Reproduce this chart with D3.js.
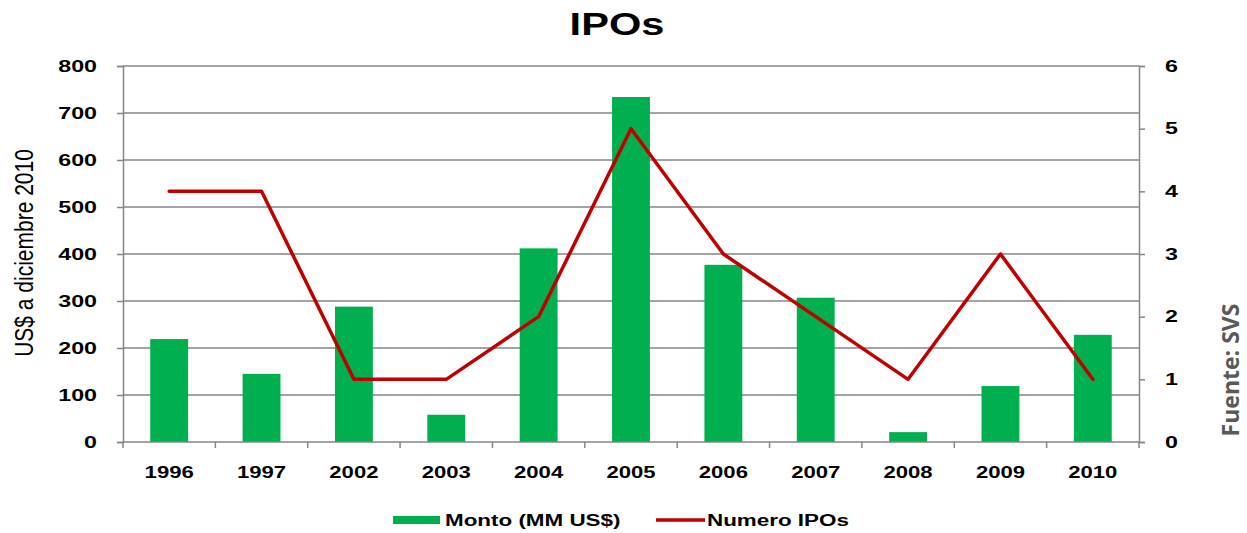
<!DOCTYPE html>
<html>
<head>
<meta charset="utf-8">
<script src="https://cdn.jsdelivr.net/npm/d3@7"></script>
<style>
  body { margin: 0; background: #fff; }
  text { font-family: "Liberation Sans", Arial, sans-serif; }
</style>
</head>
<body>
<svg width="1247" height="533"></svg>
<script>
// data
const years = ["1996", "1997", "2002", "2003", "2004", "2005", "2006", "2007", "2008", "2009", "2010"];
const monto = [219, 145, 288, 58, 412, 734, 377, 307, 21, 119, 228];
const numeroIPOs = [4, 4, 1, 1, 2, 5, 3, 2, 1, 3, 1];
const leftTicks = [0, 100, 200, 300, 400, 500, 600, 700, 800];
const rightTicks = [0, 1, 2, 3, 4, 5, 6];

const svg = d3.select("svg");
const margin = { top: 66, right: 108, bottom: 91, left: 123 };
const width = +svg.attr("width");
const height = +svg.attr("height");

const green = "#00B050";
const red = "#C00000";
const grid = "#868686";

// the original picture is stretched sideways, so widen the bold labels a bit
function stretch(sel, factor) {
	sel.each(function () {
		const w = this.getComputedTextLength();
		d3.select(this)
			.attr("textLength", w * factor)
			.attr("lengthAdjust", "spacingAndGlyphs");
	});
}

const x = d3.scaleBand()
	.domain(years)
	.range([margin.left, width - margin.right])
	.paddingInner(0.59)
	.paddingOuter(0.295);

const yLeft = d3.scaleLinear()
	.domain([0, 800])
	.range([height - margin.bottom, margin.top]);

const yRight = d3.scaleLinear()
	.domain([0, 6])
	.range([height - margin.bottom, margin.top]);

// gridlines
svg.append("g")
	.selectAll("line")
	.data(leftTicks.filter(d => d > 0))
	.join("line")
	.attr("x1", margin.left)
	.attr("x2", width - margin.right)
	.attr("y1", d => yLeft(d))
	.attr("y2", d => yLeft(d))
	.attr("stroke", grid)
	.attr("stroke-width", 1.5);

// bars
svg.append("g")
	.selectAll("rect")
	.data(years)
	.join("rect")
	.attr("x", d => x(d))
	.attr("width", x.bandwidth())
	.attr("y", (d, i) => yLeft(monto[i]))
	.attr("height", (d, i) => yLeft(0) - yLeft(monto[i]))
	.attr("fill", green);

// line
const line = d3.line()
	.x((d, i) => x(years[i]) + x.bandwidth() / 2)
	.y(d => yRight(d));

svg.append("path")
	.datum(numeroIPOs)
	.attr("d", line)
	.attr("fill", "none")
	.attr("stroke", red)
	.attr("stroke-width", 3.5)
	.attr("stroke-linejoin", "round")
	.attr("stroke-linecap", "round");

// axes
const leftAxis = svg.append("g")
	.attr("transform", `translate(${margin.left},0)`)
	.call(d3.axisLeft(yLeft).tickValues(leftTicks).tickSize(6).tickPadding(20));

const rightAxis = svg.append("g")
	.attr("transform", `translate(${width - margin.right},0)`)
	.call(d3.axisRight(yRight).tickValues(rightTicks).tickFormat(d3.format("d")).tickSize(6).tickPadding(20));

// x axis: tick marks at band boundaries
const xAxis = svg.append("g")
	.attr("transform", `translate(0,${height - margin.bottom})`);
xAxis.append("line")
	.attr("x1", margin.left)
	.attr("x2", width - margin.right)
	.attr("stroke", grid)
	.attr("stroke-width", 1.5);
const step = x.step();
xAxis.selectAll(".bt")
	.data(d3.range(years.length + 1))
	.join("line")
	.attr("class", "bt")
	.attr("x1", i => margin.left + i * step)
	.attr("x2", i => margin.left + i * step)
	.attr("y1", 0)
	.attr("y2", 6)
	.attr("stroke", grid)
	.attr("stroke-width", 1.5);
xAxis.selectAll(".lbl")
	.data(years)
	.join("text")
	.attr("class", "lbl")
	.attr("x", d => x(d) + x.bandwidth() / 2)
	.attr("y", 36)
	.attr("text-anchor", "middle")
	.attr("font-size", 16)
	.attr("font-weight", "bold")
	.attr("fill", "#000")
	.text(d => d)
	.call(stretch, 1.38);

[leftAxis, rightAxis].forEach(g => {
	g.select(".domain").attr("stroke", grid).attr("stroke-width", 1.5);
	g.selectAll(".tick line").attr("stroke", grid).attr("stroke-width", 1.5);
	g.selectAll(".tick text")
		.attr("font-size", 16)
		.attr("font-weight", "bold")
		.attr("fill", "#000")
		.style("font-family", "'Liberation Sans', Arial, sans-serif")
		.call(stretch, 1.45);
});

// title
svg.append("text")
	.attr("x", 617)
	.attr("y", 35)
	.attr("text-anchor", "middle")
	.attr("font-size", 32)
	.attr("font-weight", "bold")
	.text("IPOs")
	.call(stretch, 1.3);

// left axis label (sideways stretch makes the glyphs look taller)
svg.append("text")
	.attr("transform", "translate(33,253) scale(1.25,1) rotate(-90)")
	.attr("text-anchor", "middle")
	.attr("font-size", 21)
	.text("US$ a diciembre 2010");

// source note
svg.append("text")
	.attr("transform", "rotate(-90)")
	.attr("x", -370)
	.attr("y", 1239)
	.attr("text-anchor", "middle")
	.attr("font-size", 23)
	.attr("font-weight", "bold")
	.attr("fill", "#595959")
	.style("font-family", "'Open Sans', 'Noto Sans', sans-serif")
	.text("Fuente: SVS");

// legend
const legend = svg.append("g").attr("transform", "translate(0,520)");
legend.append("rect")
	.attr("x", 393).attr("y", -4)
	.attr("width", 47).attr("height", 8)
	.attr("fill", green);
legend.append("text")
	.attr("x", 445).attr("y", 6)
	.attr("font-size", 16).attr("font-weight", "bold")
	.text("Monto (MM US$)")
	.call(stretch, 1.4);
legend.append("line")
	.attr("x1", 656).attr("x2", 705)
	.attr("stroke", red).attr("stroke-width", 3.5);
legend.append("text")
	.attr("x", 707).attr("y", 6)
	.attr("font-size", 16).attr("font-weight", "bold")
	.text("Numero IPOs")
	.call(stretch, 1.4);
</script>
</body>
</html>
